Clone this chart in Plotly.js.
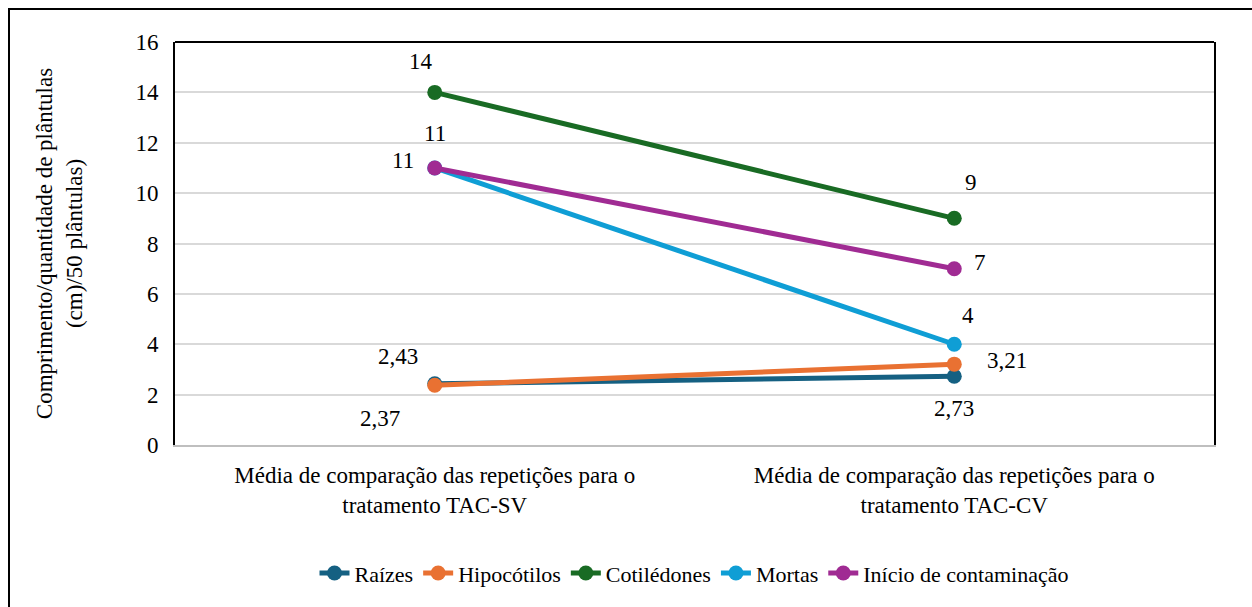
<!DOCTYPE html>
<html>
<head>
<meta charset="utf-8">
<script src="https://cdn.plot.ly/plotly-3.0.1.min.js"></script>
</head>
<body style="margin:0;font-family:'Liberation Serif',serif">
<div id="chart"></div>
<div style="position:absolute;left:8px;top:8px;width:1300px;height:700px;border-left:2px solid #000;border-top:2px solid #000;pointer-events:none"></div>
<script>
const categories = [
  "Média de comparação das repetições para o<br>tratamento TAC-SV",
  "Média de comparação das repetições para o<br>tratamento TAC-CV"
];
const seriesNames = ["Raízes", "Hipocótilos", "Cotilédones", "Mortas", "Início de contaminação"];
const raizes = [2.43, 2.73];
const hipocotilos = [2.37, 3.21];
const cotiledones = [14, 9];
const mortas = [11, 4];
const inicio = [11, 7];
const labelRaizes = ["2,43", "2,73"];
const labelHipocotilos = ["2,37", "3,21"];
const labelCotiledones = ["14", "9"];
const labelMortas = ["11", "4"];
const labelInicio = ["11", "7"];
const yTicks = [0, 2, 4, 6, 8, 10, 12, 14, 16];

const colors = ["#156082", "#E97132", "#196B24", "#0F9ED5", "#A02B93"];
const values = [raizes, hipocotilos, cotiledones, mortas, inicio];
const labels = [labelRaizes, labelHipocotilos, labelCotiledones, labelMortas, labelInicio];
const shifts = [
  [[-37, 27], [0, -32]],
  [[-55, -33], [53, 4]],
  [[-14, 31], [17, 36]],
  [[-32, 7], [14, 29]],
  [[0, 34], [26, 6]]
];

const fam = "Liberation Serif";

const traces = seriesNames.map((n, i) => ({
  type: "scatter",
  mode: "lines+markers",
  name: n,
  x: categories,
  y: values[i],
  line: { color: colors[i], width: 5 },
  marker: { color: colors[i], size: 15 },
  hoverinfo: "none"
}));

const annotations = [];
values.forEach((vals, i) => {
  vals.forEach((v, j) => {
    annotations.push({
      x: categories[j], y: v, xref: "x", yref: "y",
      text: labels[i][j], showarrow: false,
      xshift: shifts[i][j][0], yshift: shifts[i][j][1],
      font: { family: fam, size: 23, color: "#000" }
    });
  });
});

const layout = {
  width: 1252, height: 607,
  margin: { l: 175, r: 38, t: 42, b: 162 },
  paper_bgcolor: "#fff", plot_bgcolor: "#fff",
  font: { family: fam, size: 23, color: "#000" },
  showlegend: true,
  legend: {
    orientation: "h", x: 0.5, xanchor: "center", y: -0.318, yanchor: "middle",
    font: { family: fam, size: 22, color: "#000" }
  },
  xaxis: {
    type: "category", range: [-0.5, 1.5],
    showline: true, linecolor: "#bfbfbf", linewidth: 2,
    showgrid: false, ticks: "", zeroline: false, ticklabelstandoff: 8,
    tickfont: { family: fam, size: 23, color: "#000" }
  },
  yaxis: {
    range: [0, 16], tickvals: yTicks, ticktext: yTicks.map(String),
    showline: true, linecolor: "#000", linewidth: 2, mirror: true,
    showgrid: true, gridcolor: "#d9d9d9", gridwidth: 1.5,
    zeroline: false, ticks: "", ticklabelstandoff: 10,
    tickfont: { family: fam, size: 23, color: "#000" },
    title: { text: "Comprimento/quantidade de plântulas<br>(cm)/50 plântulas)", standoff: 46,
             font: { family: fam, size: 23, color: "#000" } }
  },
  shapes: [{
    type: "line", xref: "paper", yref: "paper", x0: 0, x1: 1, y0: 1, y1: 1,
    line: { color: "#000", width: 2 }
  }],
  annotations: annotations
};

function forceSerif(gd) {
  gd.querySelectorAll("text").forEach(t => {
    t.style.setProperty("font-family", "'Liberation Serif', 'Times New Roman', serif", "important");
  });
}

Plotly.newPlot("chart", traces, layout, { displayModeBar: false }).then(gd => {
  forceSerif(gd);
  gd.on("plotly_afterplot", () => forceSerif(gd));
});
</script>
</body>
</html>
